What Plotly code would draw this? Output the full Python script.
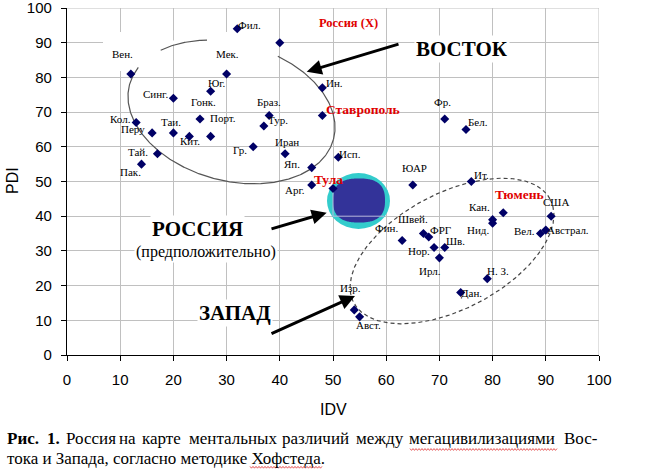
import numpy as np
import plotly.graph_objects as go

# ---------------- data (IDV, PDI) ----------------
countries = ["Фил.", "Вен.", "Мек.", "Юг.", "Синг.", "Ин.", "Браз.", "Гонк.", "Тур.",
             "Кол.", "Перу", "Таи.", "Кит.", "Порт.", "Гр.", "Иран", "Тай.", "Исп.",
             "Пак.", "Яп.", "Арг.", "Фр.", "Бел.", "ЮАР", "Ит.", "Кан.", "Нид.", "США",
             "Австрал.", "Вел.", "Швей.", "ФРГ", "Фин.", "Нор.", "Шв.", "Ирл.", "Н. З.",
             "Дан.", "Изр.", "Авст."]
idv = [32, 12, 30, 27, 20, 48, 38, 25, 37,
       13, 16, 20, 23, 27, 35, 41, 17, 51,
       14, 46, 46, 71, 75, 65, 76, 80, 80, 91,
       90, 89, 67, 68, 63, 69, 71, 70, 79,
       74, 54, 55]
pdi = [94, 81, 81, 76, 74, 77, 69, 68, 66,
       67, 64, 64, 63, 63, 60, 58, 58, 57,
       55, 54, 49, 68, 65, 49, 50, 39, 38, 40,
       36, 35, 35, 34, 33, 31, 31, 28, 22,
       18, 13, 11]

russia_name = "Россия (X)"
russia_idv = [40]
russia_pdi = [90]

cities = ["Ставрополь", "Тула", "Тюмень"]
city_idv = [48, 50, 82]
city_pdi = [69, 48, 41]

tick_vals = list(range(0, 101, 10))

caption_line1 = ["<b>Рис.</b>", "<b>1.</b>", "Россия", "на", "карте", "ментальных",
                 "различий", "между", "мегацивилизациями", "Вос-"]
caption_line2 = "тока и Запада, согласно методике Хофстеда."

# ---------------- geometry helpers (layout only) ----------------
W, H = 649, 469
ML, MR, MT, MB = 67, 50, 8, 114
PW, PH = W - ML - MR, H - MT - MB
Y0PX = MT + PH


def px2data(px, py):
    return (np.asarray(px) - ML) / PW * 100.0, (Y0PX - np.asarray(py)) / PH * 100.0


def px2paper(px, py):
    return (px - ML) / PW, (Y0PX - py) / PH


def ellipse_px(cx, cy, a, b, theta_deg, n=600):
    t = np.linspace(0, 2 * np.pi, n)
    th = np.radians(theta_deg)
    x = cx + a * np.cos(t) * np.cos(th) - b * np.sin(t) * np.sin(th)
    y = cy + a * np.cos(t) * np.sin(th) + b * np.sin(t) * np.cos(th)
    return x, y


# label offsets (screen px, label centre relative to its point)
label_off = {
    "Фил.": (12, -4), "Вен.": (-8, -20), "Мек.": (1, -20), "Юг.": (6, -8),
    "Синг.": (-18, -4), "Ин.": (12, -5), "Браз.": (0, -14), "Гонк.": (3, -17),
    "Тур.": (14, -6), "Кол.": (-16, -4), "Перу": (-19, -4), "Таи.": (-2, -11),
    "Кит.": (1, 5), "Порт.": (12, -18), "Гр.": (-13, 3), "Иран": (2, -12),
    "Тай.": (-19, -2), "Исп.": (12, -3), "Пак.": (-11, 8), "Яп.": (-20, -4),
    "Арг.": (-17, 5), "Фр.": (-2, -17), "Бел.": (12, -7), "ЮАР": (2, -17),
    "Ит.": (10, -7), "Кан.": (-13, -13), "Нид.": (-15, 7), "США": (5, -14),
    "Австрал.": (22, 0), "Вел.": (-16, -3), "Швей.": (-10, -15), "ФРГ": (12, -7),
    "Фин.": (-16, -12), "Нор.": (-15, 4), "Шв.": (11, -6), "Ирл.": (-9, 13),
    "Н. З.": (11, -8), "Дан.": (11, 0), "Изр.": (-4, -22), "Авст.": (9, 8),
}
city_off = {"Ставрополь": (41, -6), "Тула": (-5, -9), "Тюмень": (16, -18)}
russia_off = (69, -20)
caption_x1 = [7, 46.6, 65.9, 119.2, 141.8, 188.8, 282.4, 356, 409.3, 563.6]

SERIF = "Liberation Serif"
SANS = "Liberation Sans"
MARK = "#000066"

fig = go.Figure()

# ---------------- ellipses ----------------
ex, ey = ellipse_px(231.5, 112, 105.6, 68.8, 15)
keep = ~(((ey < 67) & (ex < 160)) | ((ey < 61) & (ex > 208) & (ex < 277)))
sx, sy = [], []
dx_, dy_ = px2data(ex, ey)
for i in range(len(ex)):
    if keep[i]:
        sx.append(float(dx_[i])); sy.append(float(dy_[i]))
    else:
        if sx and sx[-1] is not None:
            sx.append(None); sy.append(None)
fig.add_trace(go.Scatter(x=sx, y=sy, mode="lines", line=dict(color="#555555", width=1.2),
                         hoverinfo="skip", showlegend=False))

wx, wy = ellipse_px(452, 251, 111, 58, -27.7)
wdx, wdy = px2data(wx, wy)
fig.add_trace(go.Scatter(x=wdx, y=wdy, mode="lines",
                         line=dict(color="#444444", width=1.2, dash="4px,3px"),
                         hoverinfo="skip", showlegend=False))

# ---------------- markers ----------------
fig.add_trace(go.Scatter(x=idv + russia_idv + city_idv, y=pdi + russia_pdi + city_pdi,
                         mode="markers",
                         marker=dict(symbol="diamond", size=7, color=MARK),
                         hoverinfo="skip", showlegend=False))

shapes = []
shapes.append(dict(type="line", xref="x", yref="y", x0=0, x1=100, y0=100, y1=100,
                   line=dict(color="#c0c0c0", width=1), layer="between"))
shapes.append(dict(type="line", xref="x", yref="y", x0=100, x1=100, y0=0, y1=100,
                   line=dict(color="#c0c0c0", width=1), layer="between"))
for (x0p, x1p, y0p, y1p) in [(103, 160, 32, 71), (208, 277, 32, 71), (160, 208, 40.5, 44.5)]:
    xa, ya = px2data([x0p, x1p], [y1p, y0p])
    shapes.append(dict(type="rect", xref="x", yref="y", x0=xa[0], x1=xa[1], y0=ya[0], y1=ya[1],
                       fillcolor="white", line=dict(width=0), layer="between"))

# Russia blob
ox, oy = px2data([327, 390], [229, 173])
shapes.append(dict(type="circle", xref="x", yref="y", x0=ox[0], x1=ox[1], y0=oy[0], y1=oy[1],
                   fillcolor="#33CCCC", line=dict(width=0), layer="between"))
t = np.linspace(0, 2 * np.pi, 200)
nexp = 2.6
icx, icy, ia, ib = 359, 200.5, 26, 22
ipx = icx + ia * np.sign(np.cos(t)) * np.abs(np.cos(t)) ** (2 / nexp)
ipy = icy + ib * np.sign(np.sin(t)) * np.abs(np.sin(t)) ** (2 / nexp)
idx_, idy_ = px2data(ipx, ipy)
path = "M " + " L ".join(f"{a:.3f},{b:.3f}" for a, b in zip(idx_, idy_)) + " Z"
shapes.append(dict(type="path", xref="x", yref="y", path=path,
                   fillcolor="#333399", line=dict(width=0), layer="between"))
shapes.append(dict(type="line", xref="x", yref="y", x0=50, x1=50, y0=40, y1=48,
                   line=dict(color="#b8b8dc", width=1), layer="between"))
shapes.append(dict(type="line", xref="x", yref="y", x0=50, x1=59.6, y0=40, y1=40,
                   line=dict(color="#b8b8dc", width=1), layer="between"))


def squiggle(x0p, x1p, yp):
    xs = np.arange(x0p, x1p + 0.01, 1.5)
    ys = yp + np.where(np.arange(len(xs)) % 2 == 0, -0.9, 0.9)
    pts = [px2paper(a, b) for a, b in zip(xs, ys)]
    return "M " + " L ".join(f"{a:.4f},{b:.4f}" for a, b in pts)


for (a, b, c) in [(410, 557, 449.5), (250, 322, 467.3)]:
    shapes.append(dict(type="path", xref="paper", yref="paper", path=squiggle(a, b, c),
                       line=dict(color="#e03030", width=0.8)))

annotations = []
for name, xv, yv in zip(countries, idv, pdi):
    dx, dy = label_off[name]
    annotations.append(dict(x=xv, y=yv, xref="x", yref="y", text=name, showarrow=False,
                            xshift=dx, yshift=-dy, font=dict(family=SERIF, size=11, color="black")))
for name, xv, yv in zip(cities, city_idv, city_pdi):
    dx, dy = city_off[name]
    annotations.append(dict(x=xv, y=yv, xref="x", yref="y", text=f"<b>{name}</b>", showarrow=False,
                            xshift=dx, yshift=-dy, font=dict(family=SERIF, size=13.5, color="#e00000")))
annotations.append(dict(x=russia_idv[0], y=russia_pdi[0], xref="x", yref="y",
                        text=f"<b>{russia_name}</b>", showarrow=False,
                        xshift=russia_off[0], yshift=-russia_off[1],
                        font=dict(family=SERIF, size=12.5, color="#e00000")))

big = [("<b>ВОСТОК</b>", 462, 49, 21), ("<b>РОССИЯ</b>", 197, 229, 21),
       ("(предположительно)", 205.5, 251.5, 16), ("<b>ЗАПАД</b>", 234.5, 312.5, 21)]
for txt, pxx, pyy, fs in big:
    xa, ya = px2data(pxx, pyy)
    annotations.append(dict(x=float(xa), y=float(ya), xref="x", yref="y", text=txt, showarrow=False,
                            bgcolor="white", borderpad=1,
                            font=dict(family=SERIF, size=fs, color="black")))

for (tx, ty, hx, hy) in [(400, 43.7, 306.7, 71.7), (270, 229.3, 326.7, 212.7), (270, 334.3, 355, 296)]:
    ta, tb = px2data(tx, ty)
    ha, hb = px2data(hx, hy)
    annotations.append(dict(x=float(ha), y=float(hb), ax=float(ta), ay=float(tb), xref="x", yref="y",
                            axref="x", ayref="y", text="", showarrow=True, arrowhead=2,
                            arrowsize=1, arrowwidth=3, arrowcolor="black", standoff=0))

px_, py_ = px2paper(12, 181)
annotations.append(dict(x=px_, y=py_, xref="paper", yref="paper", text="PDI", textangle=-90,
                        xanchor="center", yanchor="middle",
                        showarrow=False, font=dict(family=SANS, size=16, color="black")))
px_, py_ = px2paper(333, 410)
annotations.append(dict(x=px_, y=py_, xref="paper", yref="paper", text="IDV",
                        xanchor="center", yanchor="middle",
                        showarrow=False, font=dict(family=SANS, size=16, color="black")))

CAP = 17
for txt, pxx in zip(caption_line1, caption_x1):
    a, b = px2paper(pxx - 2, 438.5)
    annotations.append(dict(x=a, y=b, xref="paper", yref="paper", text=txt, showarrow=False,
                            xanchor="left", yanchor="middle",
                            font=dict(family=SERIF, size=CAP, color="black")))
a, b = px2paper(5, 458.5)
annotations.append(dict(x=a, y=b, xref="paper", yref="paper", text=caption_line2, showarrow=False,
                        xanchor="left", yanchor="middle",
                        font=dict(family=SERIF, size=CAP, color="black")))

axis_common = dict(range=[0, 100], tickvals=tick_vals, showgrid=True, gridcolor="#c0c0c0",
                   gridwidth=1, zeroline=False, showline=True, linecolor="black", linewidth=1.2,
                   ticks="outside", ticklen=5, tickcolor="black", ticklabeloverflow="allow",
                   tickfont=dict(family=SANS, size=15, color="black"))

fig.update_layout(
    width=W, height=H, margin=dict(l=ML, r=MR, t=MT, b=MB),
    paper_bgcolor="white", plot_bgcolor="white",
    xaxis=dict(**axis_common, ticklabelstandoff=6, automargin=False),
    yaxis=dict(**axis_common, ticklabelstandoff=6, automargin=False),
    shapes=shapes, annotations=annotations, showlegend=False,
)

fig.write_html("out.html", config={"displayModeBar": False},
               post_script="document.body.style.margin='0px';document.body.style.overflow='hidden';")
